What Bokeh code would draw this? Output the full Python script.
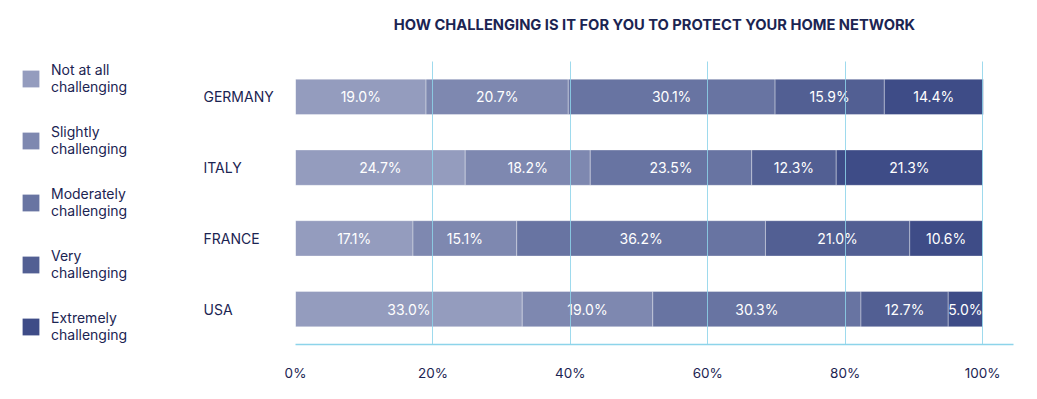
from bokeh.plotting import figure
from bokeh.layouts import row
from bokeh.models import (ColumnDataSource, FactorRange, FixedTicker, PrintfTickFormatter,
                          LabelSet, Legend, LegendItem, Range1d)
from bokeh.core.properties import value
from bokeh.embed import file_html
from bokeh.resources import INLINE

# ---- data ----
countries = ["GERMANY", "ITALY", "FRANCE", "USA"]
series_labels = ["Not at all\nchallenging", "Slightly\nchallenging", "Moderately\nchallenging",
                 "Very\nchallenging", "Extremely\nchallenging"]
not_at_all = [19.0, 24.7, 17.1, 33.0]
slightly = [20.7, 18.2, 15.1, 19.0]
moderately = [30.1, 23.5, 36.2, 30.3]
very = [15.9, 12.3, 21.0, 12.7]
extremely = [14.4, 21.3, 10.6, 5.0]
x_ticks = [0, 20, 40, 60, 80, 100]

series_values = [not_at_all, slightly, moderately, very, extremely]
colors = ["#949cbe", "#7e88b0", "#6874a2", "#525f93", "#3e4c87"]

NAVY = "#1b2452"
GRID = "#8dd4ea"
FONT = "Inter"

H = 399
TOP, BOTTOM = 61, 55
LEFT_W = 275

# ---------------- main chart ----------------
y_range = FactorRange(factors=list(reversed(countries)), range_padding=0)
p = figure(width=1037 - LEFT_W, height=H, output_backend="svg", toolbar_location=None,
           y_range=y_range, x_range=Range1d(0, 104.5), y_axis_location=None,
           min_border_left=20, min_border_right=24, min_border_top=TOP, min_border_bottom=BOTTOM)

# trailing blank line keeps the title near the top of the header area
p.title.text = "HOW CHALLENGING IS IT FOR YOU TO PROTECT YOUR HOME NETWORK\n"
p.title.align = "center"
p.title.vertical_align = "top"
p.title.text_font = FONT
p.title.text_font_size = "14.7px"
p.title.text_font_style = "bold"
p.title.text_color = NAVY
p.title.standoff = 16

p.outline_line_color = None

sources = []
left = [0.0] * len(countries)
for vals, col in zip(series_values, colors):
    right = [l + v for l, v in zip(left, vals)]
    mid = [l + v / 2 for l, v in zip(left, vals)]
    src = ColumnDataSource(dict(country=countries, left=left, right=right, mid=mid,
                                label=[f"{v:.1f}%" for v in vals]))
    sources.append(src)
    p.hbar(y="country", left="left", right="right", height=0.5, source=src,
           fill_color=col, line_color="white", line_alpha=0.35, line_width=1)
    p.add_layout(LabelSet(x="mid", y="country", text="label", source=src,
                          text_align="center", text_baseline="middle",
                          text_color="white", text_font=value(FONT), text_font_size="14px"))
    left = right

p.xgrid.ticker = FixedTicker(ticks=x_ticks)
p.xgrid.grid_line_color = GRID
p.xgrid.grid_line_alpha = 0.85
p.xgrid.level = "overlay"
p.ygrid.grid_line_color = None

p.xaxis.ticker = FixedTicker(ticks=x_ticks)
p.xaxis.formatter = PrintfTickFormatter(format="%d%%")
p.xaxis.axis_line_color = GRID
p.xaxis.axis_line_width = 1.5
p.xaxis.major_tick_line_color = None
p.xaxis.minor_tick_line_color = None
p.xaxis.major_label_standoff = 14
p.xaxis.major_label_text_font = FONT
p.xaxis.major_label_text_font_size = "13.5px"
p.xaxis.major_label_text_color = NAVY

# ---------------- left panel: legend + country names ----------------
LEG_X = 20
lf = figure(width=LEFT_W, height=H, output_backend="svg", toolbar_location=None,
            x_range=Range1d(LEG_X, LEFT_W), y_range=y_range,
            x_axis_location=None, y_axis_location=None,
            min_border_left=LEG_X, min_border_right=0, min_border_top=TOP, min_border_bottom=BOTTOM)
lf.outline_line_color = None
lf.grid.grid_line_color = None

lf.text(x=[203] * len(countries), y=countries, text=countries, text_align="left",
        text_baseline="middle", text_color=NAVY, text_font=value(FONT), text_font_size="14px")

# hidden legend proxies (one per series) so the legend can show the bar colours
proxies = []
for src, col in zip(sources, colors):
    proxies.append(lf.hbar(y="country", left=0, right=0, height=0.5, source=src,
                           fill_color=col, line_color=None, visible=False))

legend = Legend(items=[LegendItem(label=lab, renderers=[r], index=0)
                       for lab, r in zip(series_labels, proxies)],
                location="top_left", glyph_width=21, glyph_height=21,
                label_text_font=FONT, label_text_font_size="14px", label_text_color=NAVY,
                label_text_line_height=1.4, label_standoff=10, spacing=28,
                padding=0, margin=0, border_line_color=None, background_fill_alpha=0,
                inactive_fill_alpha=0)
lf.add_layout(legend)

layout = row(lf, p)
open("out.html", "w").write(file_html(layout, INLINE))
